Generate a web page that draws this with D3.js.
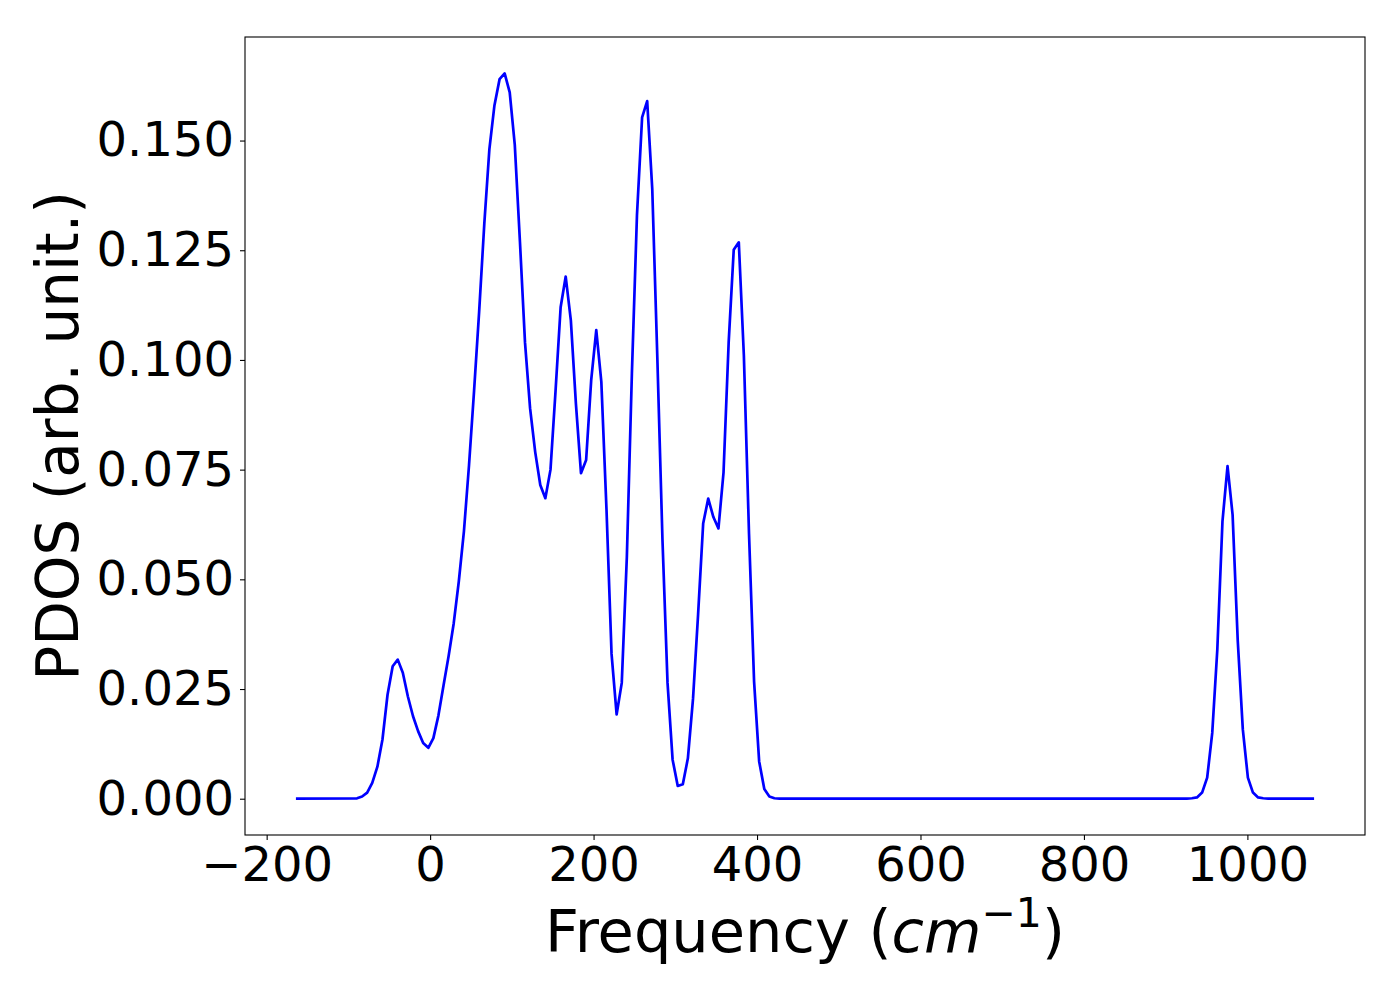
<!DOCTYPE html>
<html>
<head>
<meta charset="utf-8">
<script src="https://cdn.jsdelivr.net/npm/d3@7"></script>
<style>
  html, body { margin: 0; padding: 0; background: #fff; }
  svg { display: block; }
  text { font-family: "DejaVu Sans", sans-serif; fill: #000; }
</style>
</head>
<body>
<svg id="chart" width="1400" height="1000"></svg>
<script>
// Frequency grid points (cm^-1)
const frequencies = [-164.2, -89.4, -83.2, -77.0, -70.8, -64.5, -58.3, -52.1, -45.8, -39.6,
  -33.4, -27.2, -20.9, -14.7, -8.5, -2.2, 4.0, 10.2, 16.4, 22.7,
  28.9, 35.1, 41.4, 47.6, 53.8, 60.0, 66.3, 72.5, 78.7, 85.0,
  91.2, 97.4, 103.6, 109.9, 116.1, 122.3, 128.6, 134.8, 141.0, 147.3,
  153.5, 159.7, 165.9, 172.2, 178.4, 184.6, 190.9, 197.1, 203.3, 209.5,
  215.8, 222.0, 228.2, 234.5, 240.7, 246.9, 253.1, 259.4, 265.6, 271.8,
  278.1, 284.3, 290.5, 296.7, 303.0, 309.2, 315.4, 321.7, 327.9, 334.1,
  340.3, 346.6, 352.8, 359.0, 365.3, 371.5, 377.7, 383.9, 390.2, 396.4,
  402.6, 408.9, 415.1, 421.3, 427.6, 925.9, 932.1, 938.3, 944.6, 950.8,
  957.0, 963.2, 969.5, 975.7, 981.9, 988.2, 994.4, 1000.6, 1006.8, 1013.1,
  1019.3, 1025.5, 1081.6];

// PDOS values (arb. unit) at those frequencies
const pdosValues = [0, 0.0001, 0.0005, 0.0014, 0.0036, 0.0073, 0.0135, 0.0237, 0.0302, 0.0317,
  0.0287, 0.0233, 0.0188, 0.0154, 0.0127, 0.0116, 0.0138, 0.019, 0.0258, 0.0326,
  0.040, 0.0495, 0.061, 0.076, 0.093, 0.111, 0.131, 0.148, 0.158, 0.164,
  0.1653, 0.161, 0.149, 0.127, 0.104, 0.089, 0.079, 0.0715, 0.0685, 0.075,
  0.093, 0.112, 0.119, 0.109, 0.090, 0.0742, 0.0772, 0.0954, 0.1068, 0.095,
  0.066, 0.033, 0.0192, 0.0264, 0.055, 0.097, 0.133, 0.1553, 0.159, 0.139,
  0.100, 0.059, 0.0264, 0.0089, 0.0029, 0.0033, 0.0092, 0.0228, 0.042, 0.0627,
  0.0684, 0.0642, 0.0616, 0.0743, 0.104, 0.1251, 0.1268, 0.101, 0.0604, 0.0267,
  0.0085, 0.0022, 0.0005, 0.0001, 0, 0, 0.0001, 0.0003, 0.0014, 0.0048,
  0.015, 0.034, 0.0632, 0.0758, 0.0647, 0.036, 0.0158, 0.0048, 0.0014, 0.0003,
  0.0001, 0, 0];

const xTicks = [-200, 0, 200, 400, 600, 800, 1000];
const yTicks = [0, 0.025, 0.050, 0.075, 0.100, 0.125, 0.150];
const xDomain = [-226.5, 1143.9];
const yDomain = [-0.00827, 0.1736];
const xLabelMain = "Frequency (";
const yLabel = "PDOS (arb. unit.)";

const margin = {left: 245, right: 35, top: 37, bottom: 165};
const W = 1400, H = 1000;
const svg = d3.select("#chart");

const x = d3.scaleLinear().domain(xDomain).range([margin.left, W - margin.right]);
const y = d3.scaleLinear().domain(yDomain).range([H - margin.bottom, margin.top]);

const data = frequencies.map((f, i) => ({f, v: pdosValues[i]}));

// Line
const line = d3.line().x(d => x(d.f)).y(d => y(d.v));
svg.append("path")
  .datum(data)
  .attr("d", line)
  .attr("fill", "none")
  .attr("stroke", "#0000ff")
  .attr("stroke-width", 2.7)
  .attr("stroke-linejoin", "round");

// Axes
const fmtX = d3.format("d");
const xAxis = d3.axisBottom(x).tickValues(xTicks).tickFormat(fmtX)
  .tickSize(5).tickSizeOuter(0).tickPadding(7);
const yAxis = d3.axisLeft(y).tickValues(yTicks).tickFormat(d3.format(".3f"))
  .tickSize(5).tickSizeOuter(0).tickPadding(6);

const gx = svg.append("g").attr("transform", `translate(0,${H - margin.bottom})`).call(xAxis);
const gy = svg.append("g").attr("transform", `translate(${margin.left},0)`).call(yAxis);
[gx, gy].forEach(g => {
  g.select(".domain").remove();
  g.selectAll(".tick line").attr("stroke", "#000").attr("stroke-width", 1.1);
  g.selectAll(".tick text")
    .style("font-family", "'DejaVu Sans', sans-serif")
    .style("font-size", "48px")
    .attr("fill", "#000");
});

// Frame
svg.append("rect")
  .attr("x", margin.left).attr("y", margin.top)
  .attr("width", W - margin.left - margin.right)
  .attr("height", H - margin.top - margin.bottom)
  .attr("fill", "none").attr("stroke", "#000").attr("stroke-width", 1.1);

// X label with math text
const cx = (margin.left + W - margin.right) / 2;
const xl = svg.append("text")
  .attr("x", cx).attr("y", 952)
  .attr("text-anchor", "middle")
  .style("font-size", "59px");
xl.append("tspan").text(xLabelMain);
xl.append("tspan").style("font-style", "italic").text("cm");
xl.append("tspan").attr("dy", -25).style("font-size", "41px").text("\u22121");
xl.append("tspan").attr("dy", 25).text(")");

// Y label
const cy = (margin.top + H - margin.bottom) / 2;
svg.append("text")
  .attr("transform", `translate(78,${cy}) rotate(-90)`)
  .attr("text-anchor", "middle")
  .style("font-size", "58px")
  .text(yLabel);
</script>
</body>
</html>
